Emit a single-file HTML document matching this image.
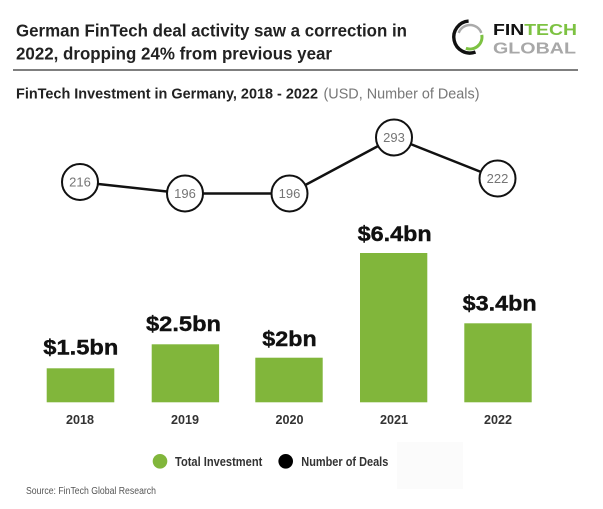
<!DOCTYPE html>
<html>
<head>
<meta charset="utf-8">
<style>
  html, body { margin:0; padding:0; background:#ffffff; }
  body { width:603px; height:509px; overflow:hidden; }
  svg { display:block; }
  text { font-family: "Liberation Sans", "DejaVu Sans", sans-serif; }
</style>
</head>
<body>
<svg width="603" height="509" viewBox="0 0 603 509" xmlns="http://www.w3.org/2000/svg">
  <rect x="0" y="0" width="603" height="509" fill="#ffffff"/>

  <!-- Title -->
  <text x="16" y="36.5" font-size="17.5" font-weight="bold" fill="#222" textLength="391" lengthAdjust="spacingAndGlyphs">German FinTech deal activity saw a correction in</text>
  <text x="16" y="59.5" font-size="17.5" font-weight="bold" fill="#222" textLength="316" lengthAdjust="spacingAndGlyphs">2022, dropping 24% from previous year</text>

  <!-- Logo -->
  <path d="M468.6 21.1 A16 16 0 1 0 475.5 52.0" fill="none" stroke="#111" stroke-width="3.4"/>
  <path d="M458.7 32.9 A12 12 0 0 1 481.3 32.9" fill="none" stroke="#aaaaaa" stroke-width="2.5"/>
  <path d="M481.8 34.9 A12 12 0 0 1 465.9 48.3" fill="none" stroke="#7dc242" stroke-width="3"/>
  <text x="493" y="35" font-size="16" font-weight="bold" textLength="84" lengthAdjust="spacingAndGlyphs"><tspan fill="#111">FIN</tspan><tspan fill="#7dc242">TECH</tspan></text>
  <text x="493" y="53.5" font-size="16" font-weight="bold" fill="#a8a8a8" textLength="83" lengthAdjust="spacingAndGlyphs">GLOBAL</text>

  <!-- Rule -->
  <line x1="13" y1="70" x2="578" y2="70" stroke="#555" stroke-width="1.6"/>

  <!-- Subtitle -->
  <text x="16" y="98.5" font-size="14.5" font-weight="bold" fill="#222" textLength="302" lengthAdjust="spacingAndGlyphs">FinTech Investment in Germany, 2018 - 2022</text>
  <text x="323.5" y="98.5" font-size="14.5" fill="#777" textLength="156" lengthAdjust="spacingAndGlyphs">(USD, Number of Deals)</text>

  <!-- Deals line -->
  <polyline points="80,182 185,193.5 289.5,193.5 394,137.5 497.5,178.5" fill="none" stroke="#111" stroke-width="2.5"/>
  <g fill="#ffffff" stroke="#111" stroke-width="2">
    <circle cx="80" cy="182" r="18"/>
    <circle cx="185" cy="193.5" r="18"/>
    <circle cx="289.5" cy="193.5" r="18"/>
    <circle cx="394" cy="137.5" r="18"/>
    <circle cx="497.5" cy="178.5" r="18"/>
  </g>
  <g font-size="13" fill="#757575" text-anchor="middle">
    <text x="80" y="186.5">216</text>
    <text x="185" y="198">196</text>
    <text x="289.5" y="198">196</text>
    <text x="394" y="142">293</text>
    <text x="497.5" y="183">222</text>
  </g>

  <!-- Bars -->
  <g fill="#81b63b">
    <rect x="46.7" y="368.3" width="67.6" height="34"/>
    <rect x="151.7" y="344.3" width="67.4" height="58"/>
    <rect x="255.3" y="357.7" width="67.4" height="44.6"/>
    <rect x="360" y="253" width="67.3" height="149.3"/>
    <rect x="464.3" y="323.3" width="67.4" height="79"/>
  </g>

  <!-- Bar labels -->
  <g font-size="21.5" font-weight="bold" fill="#111" stroke="#111" stroke-width="0.4">
    <text x="43.3" y="354.5" textLength="75" lengthAdjust="spacingAndGlyphs">$1.5bn</text>
    <text x="146" y="331" textLength="75" lengthAdjust="spacingAndGlyphs">$2.5bn</text>
    <text x="262.3" y="346" textLength="54.4" lengthAdjust="spacingAndGlyphs">$2bn</text>
    <text x="357.7" y="241" textLength="74" lengthAdjust="spacingAndGlyphs">$6.4bn</text>
    <text x="462.7" y="310.7" textLength="74" lengthAdjust="spacingAndGlyphs">$3.4bn</text>
  </g>

  <!-- X labels -->
  <g font-size="13" font-weight="bold" fill="#333">
    <text x="66" y="424" textLength="28" lengthAdjust="spacingAndGlyphs">2018</text>
    <text x="171" y="424" textLength="28" lengthAdjust="spacingAndGlyphs">2019</text>
    <text x="275.5" y="424" textLength="28" lengthAdjust="spacingAndGlyphs">2020</text>
    <text x="380" y="424" textLength="28" lengthAdjust="spacingAndGlyphs">2021</text>
    <text x="484" y="424" textLength="28" lengthAdjust="spacingAndGlyphs">2022</text>
  </g>

  <!-- faint box -->
  <rect x="397" y="442" width="66" height="47" fill="#fbfbfb"/>

  <!-- Legend -->
  <circle cx="160" cy="461.3" r="7.3" fill="#81b63b"/>
  <text x="175" y="466" font-size="13" font-weight="bold" fill="#333" textLength="87.3" lengthAdjust="spacingAndGlyphs">Total Investment</text>
  <circle cx="285.7" cy="461.3" r="7.3" fill="#000"/>
  <text x="301.3" y="466" font-size="13" font-weight="bold" fill="#333" textLength="87" lengthAdjust="spacingAndGlyphs">Number of Deals</text>

  <!-- Source -->
  <text x="26" y="494" font-size="10" fill="#555" textLength="130" lengthAdjust="spacingAndGlyphs">Source: FinTech Global Research</text>
</svg>
</body>
</html>
